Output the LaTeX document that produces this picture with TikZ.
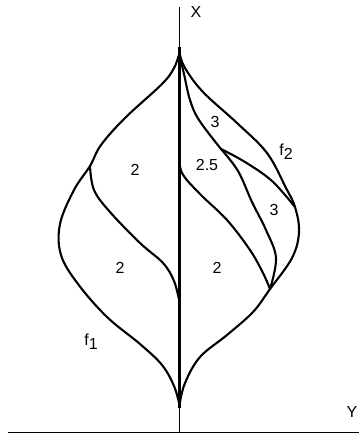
\documentclass[tikz,border=0pt]{standalone}
\usepackage{fontspec}
\setmainfont{Liberation Sans}
\begin{document}
\begin{tikzpicture}[x=1pt,y=-1pt,
  curve/.style={line width=2.1pt,line join=round,line cap=round},
  axis/.style={line width=0.8pt},
  lbl/.style={inner sep=0pt,font=\fontsize{16}{18}\selectfont}]
\useasboundingbox (0,0) rectangle (359,433);
% key points
\coordinate (T) at (179.5,53);
\coordinate (B) at (179.5,405);
\coordinate (JL) at (90,166);
\coordinate (JA) at (221,149);
\coordinate (JR) at (295,207);
\coordinate (JD) at (270,289);
% axes
\draw[axis] (179.5,7) -- (179.5,433);
\draw[axis] (8,432.2) -- (359,432.2);
\draw[line width=2.8pt] (179.5,47) -- (179.5,408);
% f1 outer left
\draw[curve] plot[smooth,tension=0.6] coordinates {(T) (174,68) (162,84) (125,118) (101,145) (JL) (74,190) (60,224) (61,255) (78,284) (107,317) (140,344) (162,365) (174,386) (B)};
% inner left
\draw[curve] plot[smooth,tension=0.6] coordinates {(JL) (94,190) (110,212) (140,243) (163,263) (174,281) (179.5,302)};
% f2 outer right
\draw[curve] plot[smooth,tension=0.6] coordinates {(T) (185,68) (203,92) (237,123) (267,153) (286,188) (JR) (299,232) (292,258) (JD) (253,312) (227,335) (200,357) (185,383) (B)};
% curve A from top to junction
\draw[curve] plot[smooth,tension=0.6] coordinates {(179.5,55) (184,74) (190,100) (199,120) (JA)};
% upper branch to right junction
\draw[curve] plot[smooth,tension=0.6] coordinates {(JA) (245,162) (272,181) (JR)};
% lower branch to lower junction
\draw[curve] plot[smooth,tension=0.6] coordinates {(JA) (238,171) (252,202) (266,230) (276,258) (JD)};
% curve B (2.5)
\draw[curve] plot[smooth,tension=0.6] coordinates {(179.5,155) (182,173) (200,194) (227,220) (250,250) (263,273) (JD)};
% labels
\node[lbl] (lx) at (196,12) {X};
\node[lbl] (ly) at (352,412) {Y};
\node[lbl] (l2a) at (135,170) {2};
\node[lbl] (l2b) at (120,268) {2};
\node[lbl] (l25) at (207,165) {2.5};
\node[lbl] (l2c) at (217,268) {2};
\node[lbl] (l3a) at (215,122) {3};
\node[lbl] (l3b) at (274,210) {3};
\node[lbl] (lf2) at (286,152) {f\raisebox{-0.45ex}{2}};
\node[lbl] (lf1) at (91,342) {f\raisebox{-0.45ex}{1}};
\end{tikzpicture}
\end{document}
